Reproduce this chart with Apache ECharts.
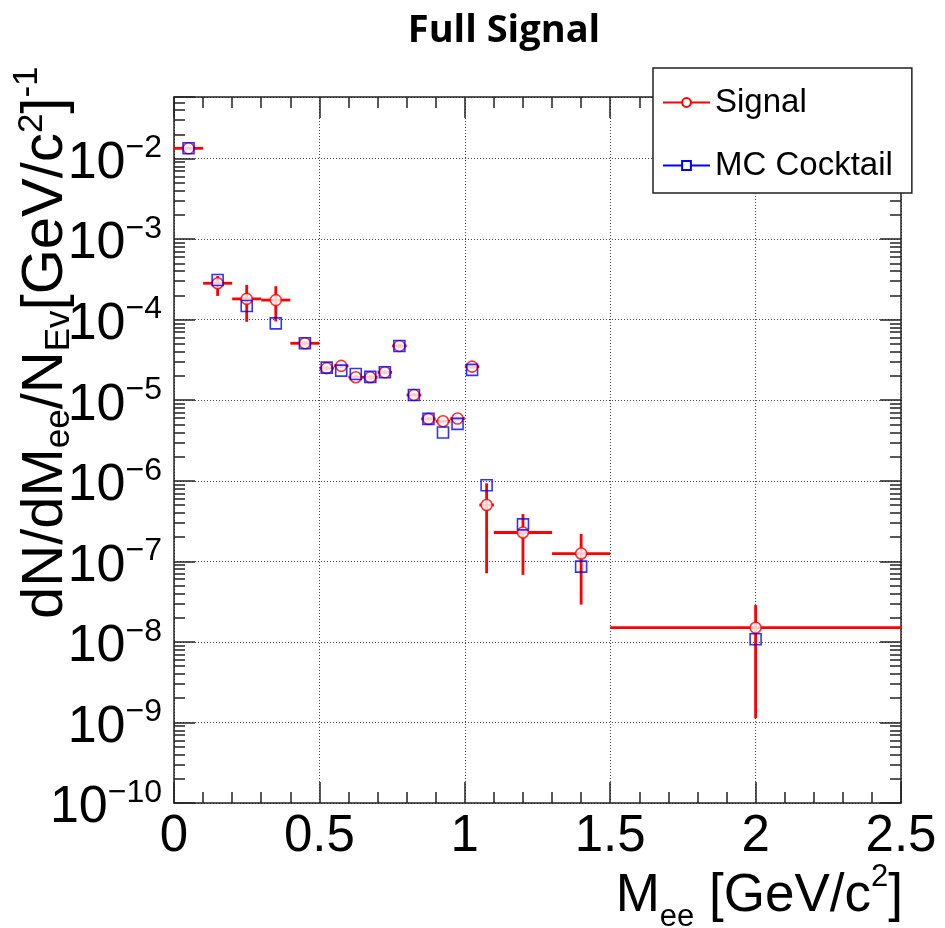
<!DOCTYPE html>
<html><head><meta charset="utf-8">
<script src="https://cdn.jsdelivr.net/npm/echarts@6/dist/echarts.min.js"></script>
<style>html,body{margin:0;padding:0;background:#fff}#c{width:945px;height:928px}</style>
</head><body><div id="c"></div>
<script>
// ---- data ----
const binCenter = [0.05, 0.15, 0.25, 0.35, 0.45, 0.525, 0.575, 0.625, 0.675, 0.725, 0.775, 0.825, 0.875, 0.925, 0.975, 1.025, 1.075, 1.2, 1.4, 2.0];
const binLow    = [0.0, 0.1, 0.2, 0.3, 0.4, 0.5, 0.55, 0.6, 0.65, 0.7, 0.75, 0.8, 0.85, 0.9, 0.95, 1.0, 1.05, 1.1, 1.3, 1.5];
const binHigh   = [0.1, 0.2, 0.3, 0.4, 0.5, 0.55, 0.6, 0.65, 0.7, 0.75, 0.8, 0.85, 0.9, 0.95, 1.0, 1.05, 1.1, 1.3, 1.5, 2.5];
const signal    = [1.34e-2, 2.83e-4, 1.81e-4, 1.75e-4, 5.09e-5, 2.50e-5, 2.67e-5, 1.93e-5, 1.93e-5, 2.22e-5, 4.72e-5, 1.16e-5, 5.86e-6, 5.48e-6, 5.92e-6, 2.61e-5, 5.0e-7, 2.28e-7, 1.25e-7, 1.5e-8];
const signalLow = [1.30e-2, 1.97e-4, 9.4e-5, 9.5e-5, 4.8e-5, 2.35e-5, 2.5e-5, 1.81e-5, 1.81e-5, 2.09e-5, 4.45e-5, 1.09e-5, 5.5e-6, 5.15e-6, 5.55e-6, 2.45e-5, 7.1e-8, 6.8e-8, 2.9e-8, 1.13e-9];
const signalHigh= [1.38e-2, 3.48e-4, 2.70e-4, 2.60e-4, 5.4e-5, 2.65e-5, 2.84e-5, 2.05e-5, 2.05e-5, 2.35e-5, 5.0e-5, 1.23e-5, 6.2e-6, 5.8e-6, 6.3e-6, 2.77e-5, 9.3e-7, 3.86e-7, 2.19e-7, 2.86e-8];
const cocktail  = [1.34e-2, 3.11e-4, 1.48e-4, 9.0e-5, 5.1e-5, 2.54e-5, 2.33e-5, 2.12e-5, 1.95e-5, 2.22e-5, 4.72e-5, 1.16e-5, 5.86e-6, 3.97e-6, 5.08e-6, 2.38e-5, 8.8e-7, 2.88e-7, 8.6e-8, 1.08e-8];
const seriesNames = ['Signal', 'MC Cocktail'];
const xRange = [0, 2.5];
const yRange = [1e-10, 0.0581];

// ---- chart ----
const FONT = "'Liberation Sans', Arial, Helvetica, sans-serif";
const AX = '#222';
const chart = echarts.init(document.getElementById('c'), null, {renderer: 'canvas'});

const errData = binCenter.map((x, i) => [x, signal[i], binLow[i], binHigh[i], signalLow[i], signalHigh[i]]);
const sigData = binCenter.map((x, i) => [x, signal[i]]);
const mcData  = binCenter.map((x, i) => [x, cocktail[i]]);

function renderErr(params, api) {
  const x = api.value(0), y = api.value(1);
  const a = api.coord([api.value(2), y]), b = api.coord([api.value(3), y]);
  const c = api.coord([x, api.value(4)]), d = api.coord([x, api.value(5)]);
  const st = {stroke: '#ff0000', lineWidth: 2.8};
  return {type: 'group', children: [
    {type: 'line', shape: {x1: a[0], y1: a[1], x2: b[0], y2: b[1]}, style: st},
    {type: 'line', shape: {x1: c[0], y1: c[1], x2: d[0], y2: d[1]}, style: st}
  ]};
}

const tickCommon = {show: true, inside: true, length: 21, lineStyle: {color: AX, width: 1.5}};
const minorCommon = {show: true, length: 11, lineStyle: {color: AX, width: 1.5}};
const lineCommon = {show: true, onZero: false, lineStyle: {color: AX, width: 1.5}};
const gridLine = {show: true, lineStyle: {color: '#444', width: 1, type: [1, 2]}};

const option = {
  animation: false,
  backgroundColor: '#fff',
  textStyle: {fontFamily: FONT},
  grid: {left: 174, right: 44, top: 97, bottom: 125, containLabel: false, outerBoundsMode: 'none'},
  graphic: [
    {type: 'text', x: 504, y: 31, silent: true,
     style: {text: 'Full Signal', fontFamily: "'Open Sans', sans-serif", fontWeight: 'bold', fontSize: 38, fill: '#000', align: 'center', verticalAlign: 'middle'}},
    {type: 'text', x: 903, y: 896, silent: true,
     style: {text: '{m|M}{sub|ee}{m| [GeV/c}{sup|2}{m|]}', align: 'right', verticalAlign: 'middle', fill: '#000',
       rich: {
         m: {fontFamily: FONT, fontSize: 53, lineHeight: 60},
         sub: {fontFamily: FONT, fontSize: 31, lineHeight: 34, padding: [43, 0, 0, 0]},
         sup: {fontFamily: FONT, fontSize: 31, lineHeight: 34, padding: [0, 0, 37, 0]}
       }}},
    {type: 'text', x: 46, y: 619, rotation: Math.PI / 2, silent: true,
     style: {text: '{m|dN/dM}{sub|ee}{m|/N}{sub|Ev}{m|[GeV/c}{sup|2}{m|]}{sup2|-1}', align: 'left', verticalAlign: 'middle', fill: '#000',
       rich: {
         m: {fontFamily: FONT, fontSize: 58, lineHeight: 62},
         sub: {fontFamily: FONT, fontSize: 35, lineHeight: 36, padding: [26, 0, 0, 0]},
         sup: {fontFamily: FONT, fontSize: 35, lineHeight: 36, padding: [0, 0, 27, 0]},
         sup2: {fontFamily: FONT, fontSize: 35, lineHeight: 36, padding: [0, 0, 38, 0]}
       }}}
  ],
  legend: {
    orient: 'vertical', left: 653, top: 68, padding: [18, 19, 11, 9], itemGap: 30,
    itemWidth: 47, itemHeight: 11, backgroundColor: '#fff', borderColor: AX, borderWidth: 1.5,
    textStyle: {fontFamily: FONT, fontSize: 33, color: '#000'},
    data: seriesNames, selectedMode: false
  },
  xAxis: [
    {type: 'value', position: 'bottom', min: xRange[0], max: xRange[1], interval: 0.5,
     axisLine: lineCommon, axisTick: tickCommon, minorTick: Object.assign({splitNumber: 5}, minorCommon),
     splitLine: gridLine,
     axisLabel: {fontFamily: FONT, fontSize: 51, color: '#000', margin: 8}},
    {type: 'value', position: 'top', min: xRange[0], max: xRange[1], interval: 0.5,
     axisLine: lineCommon, axisTick: tickCommon, minorTick: Object.assign({splitNumber: 5}, minorCommon),
     splitLine: {show: false}, axisLabel: {show: false}}
  ],
  yAxis: [
    {type: 'log', logBase: 10, position: 'left', min: yRange[0], max: yRange[1], splitNumber: 10,
     axisLine: lineCommon, axisTick: tickCommon, minorTick: Object.assign({splitNumber: 9}, minorCommon),
     splitLine: gridLine,
     axisLabel: {showMaxLabel: false, margin: 12, color: '#000',
       formatter: function (v) { const e = Math.round(Math.log10(v)); return '{b|10}{s|\u2212' + (-e) + '}'; },
       rich: {
         b: {fontFamily: FONT, fontSize: 52, lineHeight: 54, padding: [10, 0, 0, 0]},
         s: {fontFamily: FONT, fontSize: 32, lineHeight: 34, padding: [0, 0, 20, 0]}
       }}},
    {type: 'log', logBase: 10, position: 'right', min: yRange[0], max: yRange[1], splitNumber: 10,
     axisLine: lineCommon, axisTick: tickCommon, minorTick: Object.assign({splitNumber: 9}, minorCommon),
     splitLine: {show: false}, axisLabel: {show: false}}
  ],
  series: [
    {name: 'Signal errors', type: 'custom', xAxisIndex: 0, yAxisIndex: 0, renderItem: renderErr,
     encode: {x: 0, y: 1}, data: errData, silent: true, z: 2},
    {name: 'Signal points', type: 'scatter', xAxisIndex: 0, yAxisIndex: 0, data: sigData,
     symbol: 'circle', symbolSize: 11, silent: true, z: 3,
     itemStyle: {color: '#fff', borderColor: '#ff0000', borderWidth: 1.6}},
    {name: 'Cocktail points', type: 'scatter', xAxisIndex: 0, yAxisIndex: 0, data: mcData,
     symbol: 'rect', symbolSize: 11, silent: true, z: 4,
     itemStyle: {color: 'rgba(0,0,0,0)', borderColor: '#0000ff', borderWidth: 1.6}},
    {name: seriesNames[0], type: 'line', data: [], symbol: 'emptyCircle',
     lineStyle: {color: '#ff0000', width: 2.5}, itemStyle: {color: '#ff0000'}},
    {name: seriesNames[1], type: 'line', data: [], symbol: 'emptyRect',
     lineStyle: {color: '#0000ff', width: 2.5}, itemStyle: {color: '#0000ff'}}
  ]
};
chart.setOption(option);
</script>
</body></html>
